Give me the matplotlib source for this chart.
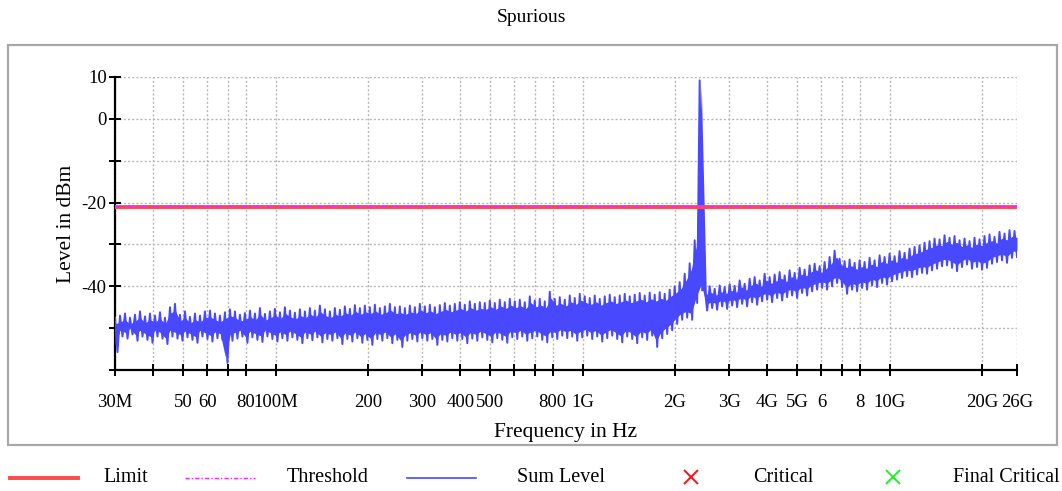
import numpy as np
import matplotlib
matplotlib.use('Agg')
import matplotlib.pyplot as plt
import matplotlib.patches as patches
from matplotlib.lines import Line2D

plt.rcParams['font.family'] = ['Liberation Serif', 'DejaVu Serif']

# sweep 30 MHz .. 26 GHz, 181 bins (max / min per bin)
f_start, f_stop = 30e6, 26e9
n_pts = 181

# upper / lower trace envelope (dBm)
level_hi = [
    -47.5, -47.0, -46.5, -47.5, -46.8, -46.0, -47.2, -46.5, -47.0, -46.2,
    -47.5, -45.0, -44.2, -46.8, -46.0, -47.3, -46.5, -47.0, -46.0, -45.8,
    -46.5, -47.0, -46.2, -45.5, -46.0, -46.8, -46.4, -45.8, -46.5, -45.2,
    -46.6, -46.0, -45.4, -46.2, -45.0, -45.8, -46.3, -45.5, -46.0, -45.2,
    -45.8, -44.6, -45.5, -46.0, -45.2, -45.6, -44.8, -45.4, -44.5, -45.2,
    -44.6, -45.0, -44.4, -45.2, -44.8, -44.2, -45.0, -44.8, -45.2, -44.6,
    -45.0, -44.2, -44.8, -44.4, -45.0, -44.5, -44.0, -44.6, -44.2, -43.8,
    -44.4, -43.6, -44.2, -43.8, -44.0, -43.4, -44.0, -43.2, -43.8, -43.0,
    -43.6, -43.2, -43.8, -42.4, -43.4, -43.0, -43.6, -41.3, -43.0, -42.6,
    -43.2, -42.2, -42.8, -41.8, -42.4, -42.8, -42.2, -43.0, -42.4, -42.0,
    -42.6, -42.2, -41.8, -42.4, -42.0, -41.6, -42.2, -41.5, -42.0, -41.4,
    -41.8, -40.8, -40.0, -39.0, -37.0, -34.5, -29.0, 9.2, -40.4, -40.0,
    -40.6, -39.8, -40.2, -39.5, -39.9, -38.6, -39.4, -38.2, -37.8, -38.6,
    -37.0, -37.8, -37.2, -36.6, -37.4, -36.2, -36.8, -35.6, -36.0, -35.0,
    -34.6, -35.2, -34.2, -33.0, -31.5, -33.4, -34.0, -33.6, -34.4, -33.8,
    -34.2, -33.2, -33.8, -32.6, -33.0, -32.2, -32.8, -31.6, -32.0, -31.0,
    -30.6, -30.2, -29.6, -29.2, -28.6, -28.8, -27.8, -28.4, -28.0, -29.0,
    -28.6, -29.2, -28.4, -28.8, -28.0, -27.6, -28.2, -27.0, -27.4, -26.6,
    -26.8,
]
level_lo = [
    -55.7, -52.0, -52.5, -51.5, -53.0, -52.0, -52.8, -53.5, -52.0, -52.5,
    -53.8, -52.0, -52.5, -53.0, -52.2, -52.8, -53.5, -52.0, -52.6, -53.2,
    -52.4, -52.8, -58.3, -53.0, -52.5, -52.0, -53.5, -52.2, -52.8, -53.3,
    -52.0, -52.6, -53.2, -52.4, -53.0, -52.2, -52.8, -53.6, -52.4, -52.9,
    -52.2, -53.4, -52.6, -53.0, -52.4, -53.8, -52.6, -53.2, -52.4, -53.5,
    -52.8, -54.0, -52.6, -53.0, -52.4, -53.6, -52.8, -54.5, -53.0, -52.6,
    -53.2, -52.4, -53.0, -52.6, -54.0, -52.8, -53.2, -52.4, -53.0, -52.6,
    -53.6, -52.5, -53.0, -52.2, -52.8, -53.4, -52.4, -52.8, -53.5, -52.2,
    -52.6, -52.0, -53.0, -52.4, -52.0, -52.8, -53.4, -52.2, -52.6, -51.8,
    -52.4, -52.0, -53.0, -52.2, -51.8, -52.6, -52.0, -53.2, -52.4, -51.8,
    -52.6, -53.4, -52.0, -52.6, -53.6, -52.2, -52.8, -51.8, -54.5, -52.4,
    -51.4, -50.5, -49.0, -48.0, -47.5, -48.0, -44.0, -41.0, -45.8, -45.2,
    -45.6, -44.8, -45.4, -44.6, -45.0, -44.2, -44.8, -43.8, -44.4, -43.6,
    -43.2, -43.8, -42.8, -43.4, -42.6, -42.2, -42.8, -41.6, -42.2, -41.2,
    -40.8, -40.4, -40.8, -40.0, -39.2, -40.2, -41.8, -40.8, -41.2, -40.4,
    -40.8, -39.8, -40.2, -39.2, -39.6, -38.8, -38.4, -38.0, -37.6, -37.8,
    -37.2, -36.8, -37.0, -36.2, -35.8, -35.2, -35.0, -35.6, -36.4, -35.4,
    -34.8, -35.8, -35.4, -36.0, -35.6, -34.6, -34.2, -33.8, -34.4, -33.2,
    -33.0,
]
limit_level = -21.0
threshold_level = -21.0

xtick_vals = [30e6, 40e6, 50e6, 60e6, 70e6, 80e6, 100e6, 200e6, 300e6, 400e6,
              500e6, 600e6, 700e6, 800e6, 1e9, 2e9, 3e9, 4e9, 5e9, 6e9, 7e9,
              8e9, 10e9, 20e9, 26e9]
xtick_labels = ['30M', '', '50', '60', '', '80', '100M', '200', '300', '400',
                '500', '', '', '800', '1G', '2G', '3G', '4G', '5G', '6', '',
                '8', '10G', '20G', '26G']
ytick_vals = [10, 0, -10, -20, -30, -40, -50, -60]
ytick_labels = ['10', '0', '', '-20', '', '-40', '', '']

c_limit = '#ff4a4a'
c_thr = '#ff22ff'
c_sum = '#4848ff'

# max/min of every bin: solid band + zig-zag trace for the spikes
freq_bin = np.geomspace(f_start, f_stop, n_pts)
freq = np.geomspace(f_start, f_stop, 2 * n_pts)
trace = np.empty(2 * n_pts)
trace[0::2] = level_hi
trace[1::2] = level_lo

fig = plt.figure(figsize=(10.62, 4.91), dpi=100)
ax = fig.add_axes([115 / 1062, 1 - 370 / 491, 902 / 1062, 293 / 491])

ax.fill_between(freq_bin, np.array(level_lo) + 1.5, np.array(level_hi) - 1.5,
                color=c_sum, lw=0, zorder=3)
ax.plot(freq, trace, color=c_sum, lw=1.4, zorder=3)
# limit + threshold
ax.axhline(limit_level, color=c_limit, lw=2.8, zorder=4)
ax.axhline(threshold_level, color=c_thr, lw=1.3, ls=(0, (3, 1.5, 1, 1.5)),
           zorder=5)

ax.set_xscale('log')
ax.set_xlim(f_start, f_stop)
ax.set_ylim(-60, 10)
ax.set_xticks(xtick_vals)
ax.set_xticklabels(xtick_labels)
ax.xaxis.set_minor_locator(matplotlib.ticker.NullLocator())
ax.set_yticks(ytick_vals)
ax.set_yticklabels(ytick_labels)

for s in ['top', 'right']:
    ax.spines[s].set_visible(False)
for s in ['left', 'bottom']:
    ax.spines[s].set_linewidth(1.6)
ax.tick_params(direction='inout', length=8, width=1.4, labelsize=13.5,
               colors='black')
ax.tick_params(axis='x', pad=13)
ax.tick_params(axis='y', pad=2)
ax.grid(True, color='#b8b8b8', ls=(0, (1.5, 1.5)), lw=1.0)
ax.set_axisbelow(True)

ax.set_xlabel('Frequency in Hz', fontsize=15.5, labelpad=9)
ax.set_ylabel('Level in dBm', fontsize=15.5, labelpad=4)
fig.text(532 / 1062, 1 - 17 / 491, 'Spurious', ha='center', va='center',
         fontsize=14)

# outer frame
frame = patches.Rectangle((8 / 1062, 1 - 445 / 491), 1049 / 1062, 400 / 491,
                          transform=fig.transFigure, fill=False,
                          ec='#a8a8a8', lw=1.6)
fig.patches.append(frame)

# legend row
ly = 1 - 478 / 491
fig.lines.append(Line2D([10 / 1062, 78 / 1062], [ly, ly], color=c_limit,
                        lw=2.8, transform=fig.transFigure))
fig.lines.append(Line2D([185 / 1062, 255 / 1062], [ly, ly], color=c_thr,
                        lw=1.0, ls=(0, (3, 1.5, 1, 1.5)),
                        transform=fig.transFigure))
fig.lines.append(Line2D([407 / 1062, 476 / 1062], [ly, ly], color=c_sum,
                        lw=1.2, transform=fig.transFigure))
fig.lines.append(Line2D([691 / 1062], [ly + 0.003], color='#ff1010',
                        marker='x', ms=10, mew=1.4, ls='none',
                        transform=fig.transFigure))
fig.lines.append(Line2D([893 / 1062], [ly + 0.003], color='#22ee22',
                        marker='x', ms=10, mew=1.4, ls='none',
                        transform=fig.transFigure))
for x, t in [(103, 'Limit'), (287, 'Threshold'), (517, 'Sum Level'),
             (753, 'Critical'), (953, 'Final Critical')]:
    fig.text(x / 1062, ly, t, ha='left', va='center', fontsize=14.5)

fig.savefig('out.png', dpi=100)
